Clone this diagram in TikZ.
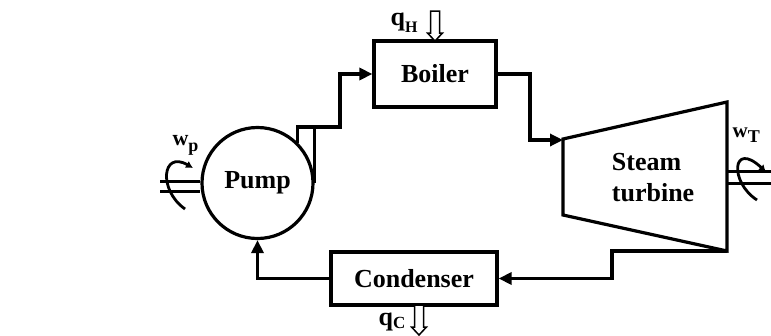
\documentclass[tikz,border=0pt]{standalone}
\usepackage{fontspec}
\setmainfont{Liberation Serif}
\usetikzlibrary{arrows.meta}
\newcommand{\subtext}[3]{\raisebox{-#2pt}{\fontsize{#3}{#3}\selectfont #1}}
\begin{document}
\begin{tikzpicture}[x=1pt,y=-1pt,
  line width=3.2pt, line join=miter,
  lbl/.style={font=\fontsize{26}{31}\selectfont\bfseries},
  box/.style={draw, rectangle, line width=3.2pt, inner sep=0pt, lbl},
  flow/.style={-{Triangle[length=13pt,width=12pt]}, line width=3.2pt},
  rot/.style={-{Latex[length=7pt,width=8pt]}, line width=2.8pt},
  shaft/.style={line width=3pt},
  hollow/.style={draw, line width=1.5pt, fill=white, line join=miter},
  hdown/.pic={\draw[hollow] (-4.5,0) -- (4.5,0) -- (4.5,22) -- (7.5,22) -- (0,30) -- (-7.5,22) -- (-4.5,22) -- cycle;}
]
\useasboundingbox (0,0) rectangle (771,335);

% components
\node[box, minimum width=122pt, minimum height=66pt] (boiler) at (435,74) {Boiler};
\node[box, minimum width=166pt, minimum height=53pt] (cond) at (414,278.5) {Condenser};
\node[draw, circle, minimum size=111pt, inner sep=0pt, lbl] (pump) at (257.5,183) {Pump};

\coordinate (t1) at (563,139);
\coordinate (t2) at (727,102);
\coordinate (t3) at (727,251);
\coordinate (t4) at (563,215);
\draw (t1) -- (t2) -- (t3) -- (t4) -- cycle;
\node[lbl, align=left, anchor=west] (turb) at (607,178) {Steam\\turbine};

% pump volute
\draw (pump.east) -- ++(0,-56);

% flow connectors
\coordinate (j1) at (340,127);
\coordinate (j2) at (530,140);
\coordinate (j3) at (612,278.5);
\draw[flow] (pump.45) |- (j1) |- (boiler.west);
\draw[flow] (boiler.east) -| (j2) -- (t1 |- j2);
\draw[flow] (t3) -| (j3) -- (cond.east);
\draw[flow] (cond.west) -| (pump.south);

% heat arrows
\pic at (435,11) {hdown};
\pic at (419,305) {hdown};
\node[lbl, anchor=base west, inner sep=0pt] (qh) at (389,25) {q\subtext{H}{7}{16}};
\node[lbl, anchor=base west, inner sep=0pt] (qc) at (377,325) {q\subtext{C}{3}{17}};

% pump shaft and rotation
\coordinate (ps) at (160,186);
\draw[shaft] (ps |- 0,181) -- (pump.west |- 0,181);
\draw[shaft] (ps |- 0,191) -- (pump.west |- 0,191);
\draw[rot] (185,209) .. controls (158,190) and (162,150) .. (193,168);
\node[anchor=base west, inner sep=0pt, font=\fontsize{22}{22}\selectfont\bfseries] (wp) at (171,145) {w\subtext{p}{6}{18}};

% turbine shaft and rotation
\coordinate (ts) at (771,177);
\draw[shaft] (t2 |- 0,171) -- (ts |- 0,171);
\draw[shaft] (t2 |- 0,183) -- (ts |- 0,183);
\draw[rot] (757,200) .. controls (729,182) and (732,140) .. (766,172);
\node[anchor=base west, inner sep=0pt, font=\fontsize{21}{21}\selectfont\bfseries] (wt) at (731,137) {w\subtext{T}{5}{18}};
\end{tikzpicture}
\end{document}
